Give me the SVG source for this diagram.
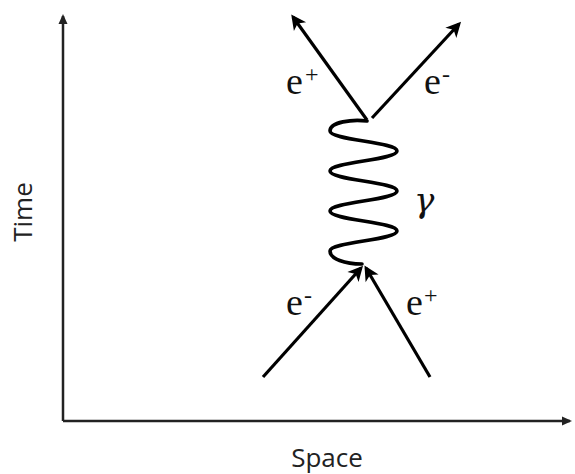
<svg xmlns="http://www.w3.org/2000/svg" width="575" height="474" viewBox="0 0 575 474">
<style>
.axis{stroke:#222;stroke-width:2.5;fill:none}
.particle{stroke:#000;stroke-width:3.2;fill:none;stroke-linecap:butt}
.wave{stroke:#000;stroke-width:3.6;fill:none;stroke-linecap:round}
.lbl{font-family:'Liberation Serif','DejaVu Serif',serif;font-size:38px;fill:#111}
.sup{font-size:24px}
.axlbl{font-family:'Open Sans','Liberation Sans',sans-serif;font-size:26px;fill:#222}
.gam{font-family:'DejaVu Serif','Liberation Serif',serif;font-style:italic;font-size:34px;fill:#111}
</style>
<defs>
<marker id="ah" markerUnits="userSpaceOnUse" viewBox="-14 -9 18 18" markerWidth="18" markerHeight="18" refX="0" refY="0" orient="auto">
<path d="M3,0 L-12,-7.5 L-8,0 L-12,7.5 Z" fill="#000"/>
</marker>
<marker id="axh" markerUnits="userSpaceOnUse" viewBox="-10 -6 14 12" markerWidth="14" markerHeight="12" refX="0" refY="0" orient="auto">
<path d="M2,0 L-8,-4.5 L-8,4.5 Z" fill="#222"/>
</marker>
</defs>
<rect width="575" height="474" fill="#fff"/>
<g id="axes">
<path class="axis" d="M63,421 L63,16" marker-end="url(#axh)"/>
<path class="axis" d="M63,421 L570,421" marker-end="url(#axh)"/>
</g>
<g id="connectors">
<line class="particle" x1="263" y1="377" x2="361" y2="268" marker-end="url(#ah)"/>
<line class="particle" x1="430" y1="377" x2="366" y2="268" marker-end="url(#ah)"/>
<line class="particle" x1="367" y1="120" x2="293" y2="17" marker-end="url(#ah)"/>
<line class="particle" x1="372" y1="118" x2="459" y2="24" marker-end="url(#ah)"/>
<path class="wave" d="M367,121 C352,119 330,122 330,131 C330,140 397,142 397,151 C397,160 330,162 330,171 C330,180 397,182 397,191 C397,200 330,202 330,211 C330,220 397,222 397,231 C397,240 330,242 330,251 C330,259 345,264 362,264"/>
</g>
<g id="label-eplus-out"><text class="lbl" font-family="Liberation Serif" x="286" y="94">e<tspan class="sup" dx="2" dy="-12">+</tspan></text></g>
<g id="label-eminus-out"><text class="lbl" font-family="Liberation Serif" x="424" y="94">e<tspan class="sup" dx="1" dy="-12">-</tspan></text></g>
<g id="label-eminus-in"><text class="lbl" font-family="Liberation Serif" x="286" y="315">e<tspan class="sup" dx="1" dy="-12">-</tspan></text></g>
<g id="label-eplus-in"><text class="lbl" font-family="Liberation Serif" x="406" y="315">e<tspan class="sup" dx="1" dy="-12">+</tspan></text></g>
<g id="label-gamma"><text class="gam" x="414" y="212">γ</text></g>
<g id="label-time"><text class="axlbl" text-anchor="middle" transform="translate(32,212) rotate(-90)">Time</text></g>
<g id="label-space"><text class="axlbl" text-anchor="middle" x="327" y="467">Space</text></g>
</svg>
